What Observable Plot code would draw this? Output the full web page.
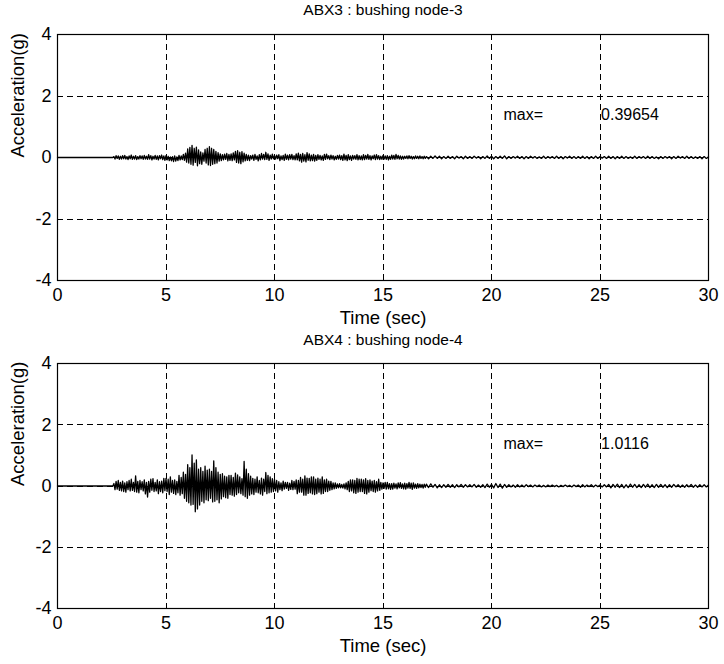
<!DOCTYPE html>
<html><head><meta charset="utf-8">
<script src="https://cdn.jsdelivr.net/npm/d3@7"></script>
<script src="https://cdn.jsdelivr.net/npm/@observablehq/plot@0.6"></script>
<style>
body{margin:0;background:#fff}
#chart svg{display:block}
</style>
</head><body><div id="chart"></div>
<script>
// Record is at rest (0 g) from 0 s until 2.55 s; motion starts at 2.6 s.
// Strong-motion part: samples every 0.05 s from 2.6 s to 16.95 s.
// Tail: samples every 0.1 s from 17.0 s to 30.0 s.
const restTimes = [0, 2.55];
const burstStart = 2.6, burstStep = 0.05;
const tailStart = 17.0, tailStep = 0.1;

// ABX3 : bushing node-3 (g)
const burst3 = [
  0.03,-0.05,0.06,-0.03,0.05,-0.06,0.04,-0.05,
  0.06,-0.04,0.07,-0.05,0.03,-0.07,0.05,-0.04,0.08,-0.06,0.04,-0.05,0.06,-0.07,0.03,-0.05,0.06,-0.04,0.05,-0.06,
  0.07,-0.05,0.04,-0.06,0.09,-0.05,0.06,-0.08,0.04,-0.05,0.07,-0.06,0.05,-0.08,0.06,-0.04,0.08,-0.07,0.05,-0.09,
  0.06,-0.08,0.04,-0.10,0.02,-0.11,0.03,-0.13,0.05,-0.12,0.02,-0.10,0.07,-0.08,0.05,-0.07,0.10,-0.09,0.14,-0.15,
  0.28,-0.18,0.33,-0.22,0.39654,-0.25,0.30,-0.16,0.34,-0.27,0.25,-0.20,0.18,-0.22,0.15,-0.12,0.26,-0.18,0.30,-0.24,
  0.35,-0.26,0.30,-0.22,0.26,-0.20,0.20,-0.18,0.16,-0.12,0.12,-0.10,0.09,-0.08,0.11,-0.06,0.13,-0.11,0.10,-0.09,
  0.12,-0.10,0.15,-0.08,0.20,-0.16,0.22,-0.18,0.17,-0.20,0.19,-0.14,0.14,-0.11,0.10,-0.09,0.08,-0.10,0.06,-0.05,
  0.08,-0.09,0.10,-0.06,0.05,-0.11,0.09,-0.08,0.13,-0.05,0.10,-0.07,0.17,-0.06,0.12,-0.09,0.08,-0.05,0.11,-0.04,
  0.06,-0.05,0.08,-0.04,0.09,-0.10,0.05,-0.07,0.07,-0.09,0.11,-0.06,0.08,-0.08,0.09,-0.05,0.10,-0.07,0.06,-0.08,
  0.12,-0.08,0.14,-0.11,0.10,-0.15,0.13,-0.12,0.09,-0.14,0.16,-0.09,0.12,-0.11,0.08,-0.10,0.10,-0.12,0.07,-0.09,
  0.09,-0.06,0.07,-0.08,0.05,-0.09,0.10,-0.06,0.11,-0.04,0.06,-0.07,0.08,-0.05,0.06,-0.08,0.04,-0.06,0.07,-0.05,
  0.08,-0.07,0.06,-0.09,0.11,-0.08,0.07,-0.10,0.09,-0.07,0.05,-0.09,0.07,-0.05,0.06,-0.06,0.09,-0.08,0.06,-0.07,
  0.05,-0.08,0.09,-0.07,0.07,-0.05,0.10,-0.06,0.06,-0.08,0.05,-0.04,0.08,-0.07,0.09,-0.05,0.06,-0.07,0.04,-0.06,
  0.07,-0.05,0.05,-0.06,0.06,-0.08,0.04,-0.06,0.08,-0.05,0.07,-0.06,0.10,-0.04,0.07,-0.05,0.05,-0.06,0.04,-0.05,
  0.04,-0.03,0.05,-0.04,0.06,-0.03,0.04,-0.05,0.03,-0.04,0.05,-0.03,0.04,-0.04,0.05,-0.03,0.03,-0.04,0.04,-0.03
];
const tail3 = [
  0.03,-0.04,0.04,-0.03,0.05,-0.03,0.04,-0.04,0.03,-0.03,
  0.04,-0.03,0.03,-0.04,0.04,-0.02,0.03,-0.04,0.04,-0.03,
  0.03,-0.03,0.04,-0.02,0.03,-0.04,0.03,-0.03,0.05,-0.03,
  0.04,-0.04,0.03,-0.03,0.04,-0.03,0.05,-0.04,0.03,-0.03,
  0.03,-0.02,0.04,-0.03,0.03,-0.04,0.03,-0.03,0.04,-0.02,
  0.03,-0.03,0.02,-0.03,0.04,-0.03,0.03,-0.02,0.03,-0.03,
  0.04,-0.03,0.03,-0.04,0.03,-0.02,0.04,-0.03,0.03,-0.03,
  0.03,-0.03,0.04,-0.03,0.03,-0.04,0.03,-0.03,0.04,-0.03,
  0.03,-0.02,0.03,-0.03,0.04,-0.03,0.03,-0.04,0.03,-0.03,
  0.04,-0.03,0.03,-0.03,0.02,-0.03,0.04,-0.03,0.03,-0.02,
  0.03,-0.03,0.04,-0.03,0.03,-0.03,0.02,-0.04,0.03,-0.03,
  0.03,-0.02,0.03,-0.04,0.03,-0.03,0.04,-0.02,0.03,-0.03,
  0.04,-0.03,0.03,-0.03,0.02,-0.03,0.03,-0.04,0.03,-0.03,
  0.02
];

// ABX4 : bushing node-4 (g)
const burst4 = [
  0.08,-0.12,0.15,-0.10,0.18,-0.14,0.12,-0.16,
  0.16,-0.18,0.10,-0.20,0.14,-0.12,0.18,-0.16,0.22,-0.14,0.12,-0.18,0.33,-0.20,0.15,-0.22,0.18,-0.12,0.14,-0.16,
  0.20,-0.26,0.12,-0.36,0.15,-0.20,0.22,-0.14,0.24,-0.18,0.12,-0.16,0.20,-0.25,0.14,-0.18,0.16,-0.22,0.25,-0.15,
  0.25,-0.18,0.22,-0.28,0.30,-0.20,0.18,-0.24,0.20,-0.28,0.15,-0.22,0.35,-0.30,0.28,-0.25,0.45,-0.40,0.38,-0.50,
  0.70,-0.55,0.60,-0.62,1.0116,-0.60,0.75,-0.84,0.85,-0.75,0.55,-0.62,0.60,-0.50,0.48,-0.55,0.65,-0.45,0.52,-0.48,
  0.55,-0.40,0.48,-0.52,0.82,-0.50,0.60,-0.45,0.45,-0.55,0.38,-0.42,0.40,-0.35,0.32,-0.38,0.30,-0.40,0.35,-0.28,
  0.35,-0.30,0.28,-0.33,0.42,-0.28,0.36,-0.22,0.30,-0.25,0.24,-0.30,0.80,-0.35,0.55,-0.40,0.40,-0.30,0.32,-0.26,
  0.25,-0.28,0.22,-0.20,0.30,-0.22,0.18,-0.26,0.26,-0.30,0.22,-0.18,0.44,-0.25,0.35,-0.22,0.30,-0.20,0.24,-0.18,
  0.22,-0.16,0.18,-0.20,0.14,-0.12,0.10,-0.15,0.16,-0.10,0.12,-0.08,0.12,-0.14,0.09,-0.11,0.18,-0.12,0.15,-0.10,
  0.20,-0.25,0.18,-0.20,0.28,-0.20,0.22,-0.30,0.33,-0.30,0.26,-0.24,0.25,-0.22,0.30,-0.26,0.30,-0.28,0.22,-0.25,
  0.26,-0.20,0.22,-0.26,0.30,-0.24,0.20,-0.18,0.22,-0.18,0.16,-0.14,0.15,-0.12,0.10,-0.09,0.10,-0.08,0.07,-0.06,
  0.08,-0.06,0.05,-0.07,0.07,-0.09,0.10,-0.12,0.15,-0.18,0.20,-0.16,0.20,-0.22,0.18,-0.24,0.25,-0.20,0.22,-0.18,
  0.22,-0.18,0.20,-0.24,0.24,-0.26,0.18,-0.20,0.20,-0.15,0.16,-0.18,0.18,-0.20,0.14,-0.16,0.22,-0.14,0.12,-0.10,
  0.10,-0.08,0.12,-0.10,0.12,-0.09,0.08,-0.11,0.08,-0.10,0.09,-0.07,0.07,-0.09,0.10,-0.06,0.11,-0.08,0.07,-0.09,
  0.09,-0.10,0.08,-0.07,0.12,-0.08,0.09,-0.11,0.10,-0.07,0.06,-0.08,0.08,-0.06,0.06,-0.05,0.05,-0.07,0.06,-0.04
];
const tail4 = [
  0.06,-0.05,0.07,-0.04,0.05,-0.06,0.04,-0.05,0.04,-0.04,
  0.05,-0.04,0.04,-0.05,0.04,-0.03,0.05,-0.04,0.04,-0.03,
  0.04,-0.03,0.05,-0.04,0.03,-0.04,0.04,-0.05,0.06,-0.04,
  0.05,-0.06,0.08,-0.05,0.06,-0.07,0.05,-0.04,0.04,-0.03,
  0.03,-0.04,0.04,-0.03,0.03,-0.03,0.04,-0.02,0.03,-0.03,
  0.03,-0.02,0.03,-0.03,0.02,-0.03,0.03,-0.02,0.03,-0.02,
  0.02,-0.03,0.02,-0.02,0.03,-0.02,0.02,-0.03,0.03,-0.02,
  0.03,-0.04,0.04,-0.03,0.03,-0.02,0.04,-0.03,0.03,-0.02,
  0.03,-0.03,0.04,-0.03,0.05,-0.06,0.05,-0.04,0.06,-0.05,
  0.05,-0.06,0.04,-0.05,0.06,-0.04,0.05,-0.05,0.04,-0.05,
  0.05,-0.04,0.06,-0.05,0.04,-0.05,0.05,-0.04,0.05,-0.04,
  0.04,-0.05,0.04,-0.04,0.05,-0.03,0.04,-0.04,0.03,-0.04,
  0.04,-0.03,0.05,-0.04,0.03,-0.04,0.04,-0.03,0.04,-0.03,
  0.03
];

const panels = [
  {title: "ABX3 : bushing node-3", burst: burst3, tail: tail3, maxText: "0.39654"},
  {title: "ABX4 : bushing node-4", burst: burst4, tail: tail4, maxText: "1.0116"}
];
const xTicks = [0, 5, 10, 15, 20, 25, 30];
const yTicks = [-4, -2, 0, 2, 4];
const xGrid = [5, 10, 15, 20, 25];
const yGrid = [-2, 0, 2];
const xLabel = "Time (sec)";
const yLabel = "Acceleration(g)";
const maxLabel = "max=";
const maxLabelPos = {t: 20.55, a: 1.38};
const maxValuePos = {t: 25.05, a: 1.38};

const font = "'Liberation Sans', Arial, Helvetica, sans-serif";
const layout = [
  {height: 330, marginTop: 34, marginBottom: 50},
  {height: 334, marginTop: 33, marginBottom: 56}
];

function series(p) {
  const rows = restTimes.map(t => ({t, a: 0}));
  p.burst.forEach((a, i) => rows.push({t: +(burstStart + i * burstStep).toFixed(3), a}));
  p.tail.forEach((a, i) => rows.push({t: +(tailStart + i * tailStep).toFixed(3), a}));
  return rows;
}

const root = document.getElementById("chart");
panels.forEach((p, k) => {
  const data = series(p);
  const L = layout[k];
  const chart = Plot.plot({
    width: 724,
    height: L.height,
    marginLeft: 57,
    marginRight: 16,
    marginTop: L.marginTop,
    marginBottom: L.marginBottom,
    style: {fontFamily: font, background: "#fff", color: "#000", overflow: "visible"},
    x: {domain: [0, 30]},
    y: {domain: [-4, 4]},
    marks: [
      Plot.ruleX(xGrid, {stroke: "#000", strokeWidth: 1, strokeDasharray: "6,4", shapeRendering: "crispEdges"}),
      Plot.ruleY(yGrid, {stroke: "#000", strokeWidth: 1, strokeDasharray: "6,4", shapeRendering: "crispEdges"}),
      Plot.line(data, {x: "t", y: "a", stroke: "#000", strokeWidth: 1.3}),
      Plot.frame({stroke: "#000", strokeWidth: 1.2}),
      Plot.axisX({ticks: xTicks, tickSize: 0, tickPadding: 8, fontSize: 18, label: null, tickFormat: d => String(d)}),
      Plot.axisY({ticks: yTicks, tickSize: 0, tickPadding: 6, fontSize: 18, label: null, tickFormat: d => String(d)}),
      Plot.text([p.title], {frameAnchor: "top", dy: -(L.marginTop - 14), lineAnchor: "bottom", fontSize: 15.5, fill: "#000"}),
      Plot.text([xLabel], {frameAnchor: "bottom", dy: 38, lineAnchor: "middle", fontSize: 18.5, fill: "#000"}),
      Plot.text([yLabel], {frameAnchor: "left", dx: -39, rotate: -90, lineAnchor: "middle", fontSize: 18.5, fill: "#000"}),
      Plot.text([maxLabelPos], {x: "t", y: "a", text: () => maxLabel, textAnchor: "start", fontSize: 16, fill: "#000"}),
      Plot.text([maxValuePos], {x: "t", y: "a", text: () => p.maxText, textAnchor: "start", fontSize: 16, fill: "#000"})
    ]
  });
  root.appendChild(chart);
});
</script></body></html>
